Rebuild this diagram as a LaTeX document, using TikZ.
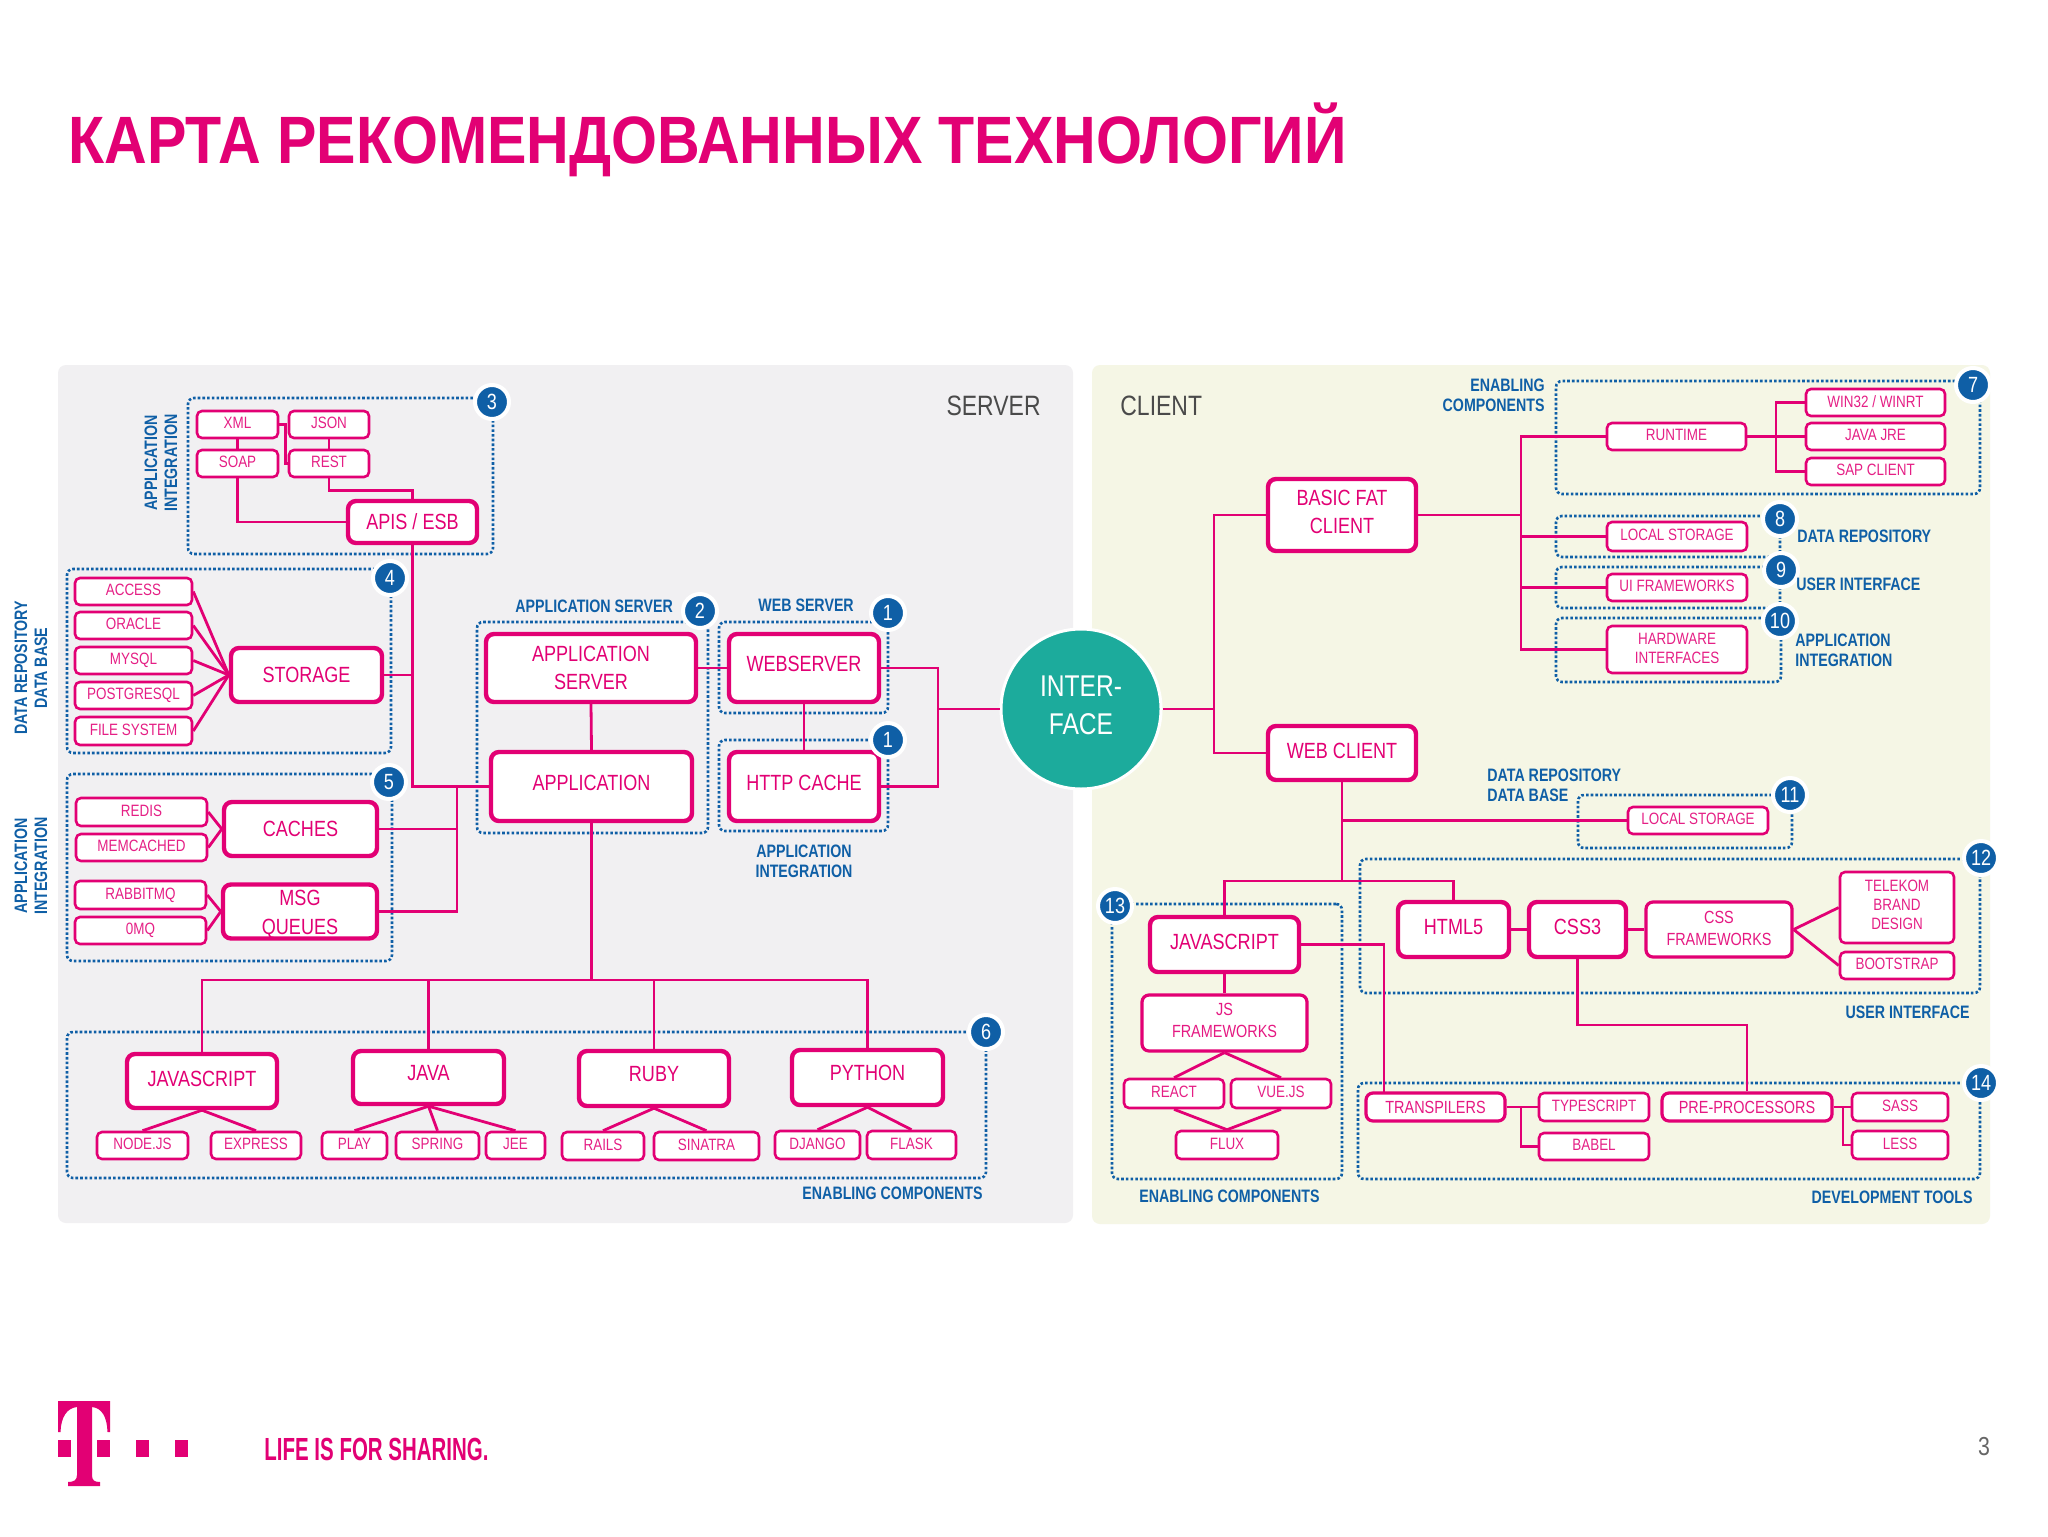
\documentclass[tikz,border=0pt]{standalone}
\usepackage{fontspec}
\setmainfont{Liberation Sans}[FakeStretch=0.82]
\newfontfamily\lblfont{Liberation Sans}[FakeStretch=0.79]
\newfontfamily\titlefont{Liberation Sans}[FakeStretch=0.882]
\newfontfamily\sloganfont{Liberation Sans}[FakeStretch=0.64]
\definecolor{tmag}{HTML}{E20074}
\definecolor{tblue}{HTML}{0F5FA6}
\definecolor{tteal}{HTML}{1CAB9C}
\definecolor{srvbg}{HTML}{F1F0F2}
\definecolor{clibg}{HTML}{F5F6E5}
\definecolor{tgrey}{HTML}{4A4A4A}
\tikzset{
  fatb/.style={draw=tmag,fill=white,line width=2.2pt,rounded corners=4pt,inner sep=0pt,align=center,text=tmag,font=\fontsize{11}{14.4}\selectfont},
  medb/.style={draw=tmag,fill=white,line width=1.6pt,rounded corners=3.5pt,inner sep=0pt,align=center,text=tmag!90!white,font=\fontsize{8.8}{11}\selectfont},
  thinb/.style={draw=tmag,fill=white,line width=1.3pt,rounded corners=2.5pt,inner sep=0pt,align=center,text=tmag!88!white,font=\fontsize{8.2}{9.5}\selectfont},
  dotb/.style={draw=tblue,line width=1.3pt,dash pattern=on 1.3pt off 1.05pt,rounded corners=3pt,inner sep=0pt},
  conn/.style={draw=tmag,line width=1.4pt},
  badge/.style={circle,fill=tblue,draw=white,line width=2pt,minimum size=17pt,inner sep=0pt,text=white,font=\fontsize{11}{12}\selectfont},
  lbl/.style={inner sep=0pt,text=tblue,align=left,font=\lblfont\bfseries\fontsize{9}{10}\selectfont},
  lblc/.style={lbl,align=center},
  side/.style={lbl,align=center,rotate=90},
  panelt/.style={inner sep=0pt,text=tgrey,font=\fontsize{14}{16}\selectfont}
}
\newcommand{\lift}[1]{\rule[-#1pt]{0pt}{#1pt}}
\newcommand{\bx}[8]{%
  \pgfmathsetmacro\bxcx{(#4+#6)/2}\pgfmathsetmacro\bxcy{(#5+#7)/2}%
  \pgfmathsetmacro\bxw{(#6-#4)*0.5-#2}\pgfmathsetmacro\bxh{(#7-#5)*0.5-#2}%
  \node[#1,minimum width=\bxw pt,minimum height=\bxh pt] (#3) at (\bxcx,\bxcy) {#8};}
\newcommand{\fatx}{\bx{fatb}{0}}
\newcommand{\medx}{\bx{medb}{0}}
\newcommand{\thinx}[6]{\bx{thinb}{0}{#1}{#2}{#3}{#4}{#5}{#6\lift{1.3}}}
\newcommand{\dotx}[5]{\bx{dotb}{0}{#1}{#2}{#3}{#4}{#5}{}}
\begin{document}
\begin{tikzpicture}[x=0.5pt,y=-0.5pt]
\useasboundingbox (0,0) rectangle (2048,1536);
\fill[white] (0,0) rectangle (2048,1536);
% panels
\fill[srvbg,rounded corners=4pt] (58,365) rectangle (1073,1223);
\fill[clibg,rounded corners=4pt] (1092,365) rectangle (1990,1224);
% title and footer
\node[anchor=base west,inner sep=0pt,text=tmag,font=\titlefont\bfseries\fontsize{33.5}{36}\selectfont] (title) at (68,163) {КАРТА РЕКОМЕНДОВАННЫХ ТЕХНОЛОГИЙ};
\fill[tmag] (58,1401) -- (110,1401) -- (110,1432) -- (107.5,1432) .. controls (107,1417) and (102,1408) .. (92,1407) -- (92,1475) .. controls (92,1480) and (94,1482) .. (100,1482) -- (100,1486) -- (68,1486) -- (68,1482) .. controls (74,1482) and (77,1480) .. (77,1475) -- (77,1407) .. controls (67,1408) and (61,1417) .. (60.5,1432) -- (58,1432) -- cycle;
\fill[tmag] (58,1440) rectangle (71,1457);
\fill[tmag] (97,1440) rectangle (110,1457);
\fill[tmag] (136,1440) rectangle (149,1457);
\fill[tmag] (175,1440) rectangle (188,1457);
\node[anchor=base west,inner sep=0pt,text=tmag,font=\sloganfont\bfseries\fontsize{16}{18}\selectfont] (slogan) at (264,1460) {LIFE IS FOR SHARING.};
\node[inner sep=0pt,text=black!60,font=\fontsize{13}{14}\selectfont] (pagenum) at (1984,1447) {3};
\node[panelt,anchor=east] (tsrv) at (1041,406) {SERVER};
\node[panelt,anchor=west] (tcli) at (1120,406) {CLIENT};
% dotted groups
\dotx{d3}{188}{398}{493}{554}
\dotx{d4}{67}{569}{391}{753}
\dotx{d5}{67}{774}{392}{961}
\dotx{d6}{67}{1032}{986}{1178}
\dotx{d2}{477}{622}{708}{833}
\dotx{d1a}{719}{622}{888}{713}
\dotx{d1b}{719}{740}{888}{831}
\dotx{d7}{1556}{381}{1980}{494}
\dotx{d8}{1556}{516}{1780}{557}
\dotx{d9}{1556}{567}{1780}{608}
\dotx{d10}{1556}{618}{1781}{682}
\dotx{d11}{1578}{795}{1792}{848}
\dotx{d12}{1360}{859}{1980}{993}
\dotx{d13}{1112}{904}{1342}{1179}
\dotx{d14}{1358}{1083}{1980}{1179}
% server nodes
\thinx{xml}{197}{411}{278}{438}{XML}
\thinx{json}{289}{411}{369}{438}{JSON}
\thinx{soap}{197}{450}{278}{477}{SOAP}
\thinx{rest}{289}{450}{369}{477}{REST}
\fatx{apis}{348}{501}{477}{543}{APIS / ESB}
\thinx{access}{75}{578}{192}{605}{ACCESS}
\thinx{oracle}{75}{612}{192}{639}{ORACLE}
\thinx{mysql}{75}{647}{192}{674}{MYSQL}
\thinx{postgres}{75}{682}{192}{709}{POSTGRESQL}
\thinx{filesys}{75}{717}{192}{745}{FILE SYSTEM}
\fatx{storage}{231}{648}{382}{702}{STORAGE}
\thinx{redis}{76}{798}{207}{826}{REDIS}
\thinx{memcached}{76}{834}{207}{861}{MEMCACHED}
\fatx{caches}{224}{802}{377}{856}{CACHES}
\thinx{rabbit}{75}{881}{206}{909}{RABBITMQ}
\thinx{zeromq}{75}{917}{206}{944}{0MQ}
\fatx{msg}{223}{885}{377}{938}{\rule{0pt}{10.5pt}MSG\\QUEUES}
\fatx{appsrv}{486}{634}{696}{702}{APPLICATION\\SERVER}
\fatx{application}{491}{752}{692}{821}{APPLICATION\lift{3.9}}
\fatx{websrv}{729}{634}{879}{702}{WEBSERVER\lift{3.9}}
\fatx{httpc}{729}{752}{879}{821}{HTTP CACHE\lift{3.9}}
\fatx{sjs}{127}{1054}{277}{1108}{JAVASCRIPT\lift{2.6}}
\fatx{sjava}{353}{1051}{504}{1104}{JAVA\lift{4.5}}
\fatx{sruby}{579}{1051}{729}{1106}{RUBY\lift{4.5}}
\fatx{spython}{792}{1050}{943}{1105}{PYTHON\lift{4.5}}
\thinx{nodejs}{97}{1132}{188}{1159}{NODE.JS}
\thinx{express}{211}{1132}{301}{1159}{EXPRESS}
\thinx{play}{322}{1132}{387}{1159}{PLAY}
\thinx{spring}{396}{1132}{479}{1159}{SPRING}
\thinx{jee}{486}{1132}{545}{1159}{JEE}
\thinx{rails}{562}{1132}{644}{1160}{RAILS}
\thinx{sinatra}{654}{1132}{759}{1160}{SINATRA}
\thinx{django}{775}{1131}{860}{1159}{DJANGO}
\thinx{flask}{867}{1131}{956}{1159}{FLASK}
% interface
\node[circle,fill=tteal,draw=white,line width=1.5pt,minimum size=80pt,inner sep=0pt,text=white,align=center,font=\fontsize{15}{19}\selectfont] (interface) at (1081,709) {INTER-\\FACE\lift{3.9}};
% client nodes
\fatx{basic}{1268}{479}{1416}{551}{BASIC FAT\\CLIENT\lift{3.2}}
\fatx{webc}{1268}{726}{1416}{780}{WEB CLIENT\lift{2.6}}
\thinx{runtime}{1607}{423}{1746}{450}{RUNTIME}
\thinx{win}{1806}{389}{1945}{416}{WIN32 / WINRT}
\thinx{jre}{1806}{423}{1945}{450}{JAVA JRE}
\thinx{sap}{1806}{458}{1945}{485}{SAP CLIENT}
\thinx{lstore}{1607}{522}{1747}{551}{LOCAL STORAGE}
\thinx{uifw}{1607}{574}{1747}{601}{UI FRAMEWORKS}
\thinx{hw}{1607}{626}{1747}{673}{HARDWARE\\INTERFACES}
\thinx{lstoreb}{1628}{807}{1768}{834}{LOCAL STORAGE}
\fatx{cjs}{1150}{917}{1299}{972}{JAVASCRIPT\lift{2.6}}
\fatx{html}{1398}{902}{1509}{957}{HTML5\lift{2.6}}
\fatx{css}{1529}{902}{1626}{957}{CSS3\lift{2.6}}
\medx{cssfw}{1646}{902}{1792}{957}{CSS\\FRAMEWORKS\lift{1.3}}
\thinx{telekom}{1840}{872}{1954}{943}{TELEKOM\\BRAND\\DESIGN\lift{2.6}}
\thinx{bootstrap}{1840}{952}{1954}{979}{BOOTSTRAP}
\medx{jsfw}{1142}{995}{1307}{1051}{JS\\FRAMEWORKS\lift{2.6}}
\thinx{react}{1124}{1079}{1224}{1108}{REACT}
\thinx{vue}{1231}{1079}{1331}{1108}{VUE.JS}
\thinx{flux}{1176}{1131}{1278}{1159}{FLUX}
\medx{transp}{1366}{1093}{1505}{1121}{TRANSPILERS}
\thinx{typescript}{1539}{1093}{1649}{1121}{TYPESCRIPT}
\thinx{babel}{1539}{1133}{1649}{1160}{BABEL}
\medx{prep}{1662}{1093}{1832}{1121}{PRE-PROCESSORS}
\thinx{sass}{1852}{1093}{1948}{1121}{SASS}
\thinx{less}{1852}{1131}{1948}{1159}{LESS}
% junctions
\coordinate (jmq) at (457,786.5);
\coordinate (jbus) at (591.5,980);
\coordinate (jint) at (938,709);
\coordinate (jcli) at (1214,709);
\coordinate (jfat) at (1521,515);
\coordinate (jrun) at (1776,436.5);
\coordinate (jweb) at (1342,881);
\coordinate (jtrans) at (1384,1093);
\coordinate (jpre) at (1747,1025);
\coordinate (jts) at (1521,1107);
\coordinate (jss) at (1843,1107);
% server connectors
\draw[conn] (xml.south) -- (soap.north);
\draw[conn] (json.south) -- (rest.north);
\draw[conn] (xml.east) -- ++(6,0) |- (rest.west);
\draw[conn] (soap.south) |- (apis.west);
\draw[conn] (rest.south) -- ++(0,12) -| (apis.north);
\draw[conn] (apis.south) |- (application.west);
\draw[conn] (storage.east) -- (storage.east -| apis.south);
\foreach \n in {access,oracle,mysql,postgres,filesys} \draw[conn] (\n.east) -- (storage.west);
\foreach \n in {redis,memcached} \draw[conn] (\n.east) -- (caches.west);
\foreach \n in {rabbit,zeromq} \draw[conn] (\n.east) -- (msg.west);
\draw[conn] (caches.east) -- (caches.east -| jmq);
\draw[conn] (msg.east) -| (jmq);
\draw[conn] (appsrv.south) -- (application.north);
\draw[conn] (appsrv.east) -- (websrv.west);
\draw[conn] (websrv.south) -- (httpc.north);
\draw[conn] (websrv.east) -| (jint);
\draw[conn] (httpc.east) -| (jint);
\draw[conn] (jint) -- (interface.west);
\draw[conn] (application.south) -- (jbus);
\draw[conn] (sjs.north) |- (jbus);
\draw[conn] (spython.north) |- (jbus);
\draw[conn] (sjava.north) |- (jbus);
\draw[conn] (sruby.north) |- (jbus);
\foreach \n in {nodejs,express} \draw[conn] (sjs.south) -- (\n.north);
\foreach \n in {play,spring,jee} \draw[conn] (sjava.south) -- (\n.north);
\foreach \n in {rails,sinatra} \draw[conn] (sruby.south) -- (\n.north);
\foreach \n in {django,flask} \draw[conn] (spython.south) -- (\n.north);
% client connectors
\draw[conn] (interface.east) -- (jcli);
\draw[conn] (basic.west) -| (jcli);
\draw[conn] (webc.west) -| (jcli);
\draw[conn] (basic.east) -- (jfat);
\draw[conn] (runtime.west) -| (jfat);
\draw[conn] (hw.west) -| (jfat);
\draw[conn] (lstore.west) -- (lstore.west -| jfat);
\draw[conn] (uifw.west) -- (uifw.west -| jfat);
\draw[conn] (runtime.east) -- (jre.west);
\draw[conn] (win.west) -| (jrun);
\draw[conn] (sap.west) -| (jrun);
\draw[conn] (webc.south) -- (jweb);
\draw[conn] (lstoreb.west) -- (lstoreb.west -| jweb);
\draw[conn] (cjs.north) |- (jweb);
\draw[conn] (html.north) |- (jweb);
\draw[conn] (cjs.south) -- (jsfw.north);
\draw[conn] (cjs.east) -| (jtrans);
\draw[conn] (html.east) -- (css.west);
\draw[conn] (css.east) -- (cssfw.west);
\draw[conn] (cssfw.east) -- (telekom.west);
\draw[conn] (cssfw.east) -- (bootstrap.west);
\draw[conn] (css.south) |- (jpre) -- (prep.north);
\draw[conn] (jsfw.south) -- (react.north);
\draw[conn] (jsfw.south) -- (vue.north);
\draw[conn] (react.south) -- (flux.north);
\draw[conn] (vue.south) -- (flux.north);
\draw[conn] (transp.east) -- (typescript.west);
\draw[conn] (babel.west) -| (jts);
\draw[conn] (prep.east) -- (sass.west);
\draw[conn] (less.west) -| (jss);
% badges
\node[badge] (b3) at (492,402) {3};
\node[badge] (b4) at (390,578) {4};
\node[badge] (b5) at (389,782) {5};
\node[badge] (b6) at (986,1032) {6};
\node[badge] (b2) at (700,611) {2};
\node[badge] (b1a) at (888,613) {1};
\node[badge] (b1b) at (888,740) {1};
\node[badge] (b7) at (1973,385) {7};
\node[badge] (b8) at (1780,519) {8};
\node[badge] (b9) at (1781,570) {9};
\node[badge] (b10) at (1780,621) {10};
\node[badge] (b11) at (1790,795) {11};
\node[badge] (b12) at (1981,858) {12};
\node[badge] (b13) at (1115,906) {13};
\node[badge] (b14) at (1981,1083) {14};
% labels
\node[side] (l1) at (161,463) {APPLICATION\\INTEGRATION};
\node[side] (l2) at (31,668) {DATA REPOSITORY\\DATA BASE};
\node[side] (l3) at (31,866) {APPLICATION\\INTEGRATION};
\node[lbl,anchor=west] (l4) at (515,606) {APPLICATION SERVER};
\node[lbl,anchor=west] (l5) at (758,605) {WEB SERVER};
\node[lblc] (l6) at (804,861) {APPLICATION\\INTEGRATION};
\node[lbl,anchor=east] (l7) at (983,1193) {ENABLING COMPONENTS};
\node[lbl,anchor=east,align=right] (l8) at (1545,395) {ENABLING\\COMPONENTS};
\node[lbl,anchor=west] (l9) at (1797,536) {DATA REPOSITORY};
\node[lbl,anchor=west] (l10) at (1796,584) {USER INTERFACE};
\node[lbl,anchor=west] (l11) at (1795,650) {APPLICATION\\INTEGRATION};
\node[lbl,anchor=west] (l12) at (1487,785) {DATA REPOSITORY\\DATA BASE};
\node[lbl,anchor=east] (l13) at (1970,1012) {USER INTERFACE};
\node[lbl,anchor=west] (l14) at (1139,1196) {ENABLING COMPONENTS};
\node[lbl,anchor=east] (l15) at (1973,1197) {DEVELOPMENT TOOLS};
\end{tikzpicture}
\end{document}
